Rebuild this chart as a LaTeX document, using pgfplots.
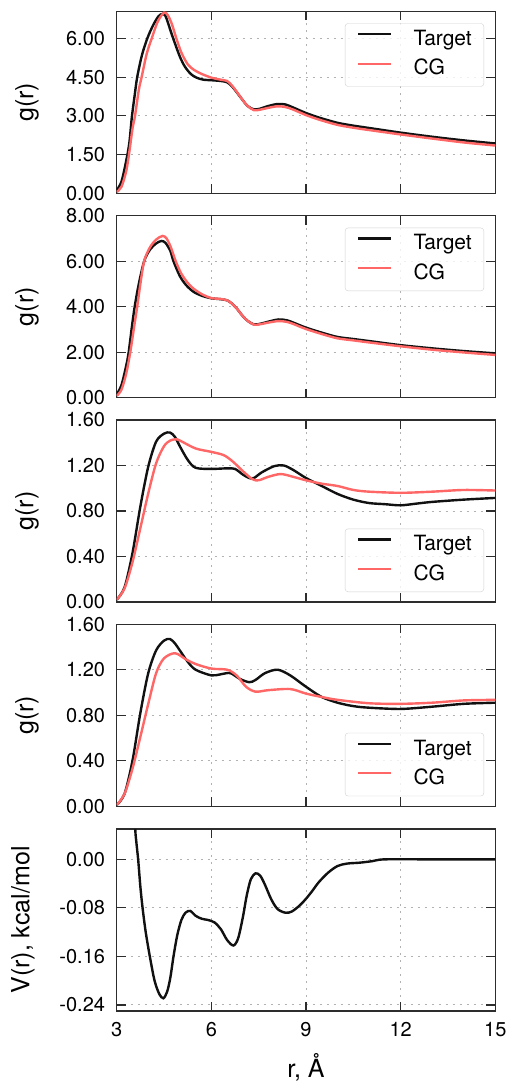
\documentclass[border=0pt]{standalone}
\usepackage{fontspec}
\setmainfont{TeX Gyre Heros}
\usepackage{pgfplots}
\pgfplotsset{compat=1.18}
\definecolor{cgred}{RGB}{255,102,102}
\definecolor{tgt}{RGB}{17,17,17}
\definecolor{spine}{RGB}{45,45,45}
\newcommand\tickfont{\fontsize{20}{24}\selectfont}
\newcommand\labelfont{\fontsize{25}{30}\selectfont}
\newcommand\legfont{\fontsize{21}{25}\selectfont}

\pgfplotsset{
 panel/.style={
  scale only axis, width=378.6pt, height=182pt,
  xmin=3, xmax=15, xtick={3,6,9,12,15},
  tick align=inside, tick pos=both,
  major tick length=9pt,
  every tick/.style={spine, line width=1.2pt},
  axis line style={spine, line width=1.4pt},
  grid=major,
  major grid style={gray!60, line width=0.9pt, dash pattern=on 2pt off 5pt},
  /pgf/number format/assume math mode=true,
  ticklabel style={font=\tickfont},
  yticklabel style={anchor=east, inner sep=0pt, xshift=-11.5pt,
     /pgf/number format/.cd, fixed, fixed zerofill, precision=2},
  xticklabel style={anchor=north, inner sep=0pt, yshift=-11pt},
  every axis y label/.style={at={(axis description cs:-0.237,0.5)}, rotate=90, anchor=center, font=\labelfont},
  every axis x label/.style={at={(axis description cs:0.5,0)}, anchor=base, yshift=-66.7pt, font=\labelfont},
  legend cell align=left,
  legend image code/.code={\draw[##1] (0pt,6pt) -- (33pt,6pt);},
  legend style={draw=black!18, rounded corners=3pt, fill=white, fill opacity=0.8, text opacity=1,
     inner xsep=12pt, inner ysep=7pt, row sep=10pt, column sep=21pt, font=\legfont,
     nodes={inner sep=0pt, text height=15pt, text depth=4.5pt}},
 },
 legNE/.style={legend style={at={(1,1)}, anchor=north east, xshift=-11.3pt, yshift=-12pt}},
 legSE/.style={legend style={at={(1,0)}, anchor=south east, xshift=-11.3pt, yshift=10pt}},
 tline/.style={tgt, line width=2.4pt, smooth},
 cline/.style={cgred, line width=2.4pt, smooth},
}

\begin{document}
\begin{tikzpicture}
\useasboundingbox (0pt,0pt) rectangle (511pt,-1084pt);

% ---------- panel 1 ----------
\begin{axis}[panel, legNE, at={(116.7pt,-193.3pt)}, anchor=south west,
  ymin=0, ymax=7.05, ytick={0,1.5,3,4.5,6}, xticklabels={}, ylabel={g(r)}]
\addplot[tline] coordinates {
(3.00,0.12)(3.15,0.45)(3.30,1.25)(3.40,1.95)(3.48,2.95)(3.57,3.80)(3.65,4.50)(3.80,5.35)
(3.97,6.00)(4.15,6.50)(4.32,6.85)(4.45,6.95)(4.55,6.86)(4.68,6.40)(4.79,6.00)(5.00,5.30)
(5.16,4.91)(5.35,4.62)(5.53,4.48)(5.75,4.40)(6.00,4.38)(6.30,4.35)(6.50,4.30)(6.65,4.15)
(6.80,3.92)(7.00,3.60)(7.15,3.38)(7.35,3.25)(7.55,3.28)(7.80,3.38)(8.10,3.46)(8.35,3.44)
(8.60,3.32)(9.00,3.11)(9.45,2.92)(10.00,2.73)(10.50,2.62)(11.00,2.53)(12.00,2.35)
(13.00,2.19)(14.00,2.05)(15.00,1.93)};
\addplot[cline] coordinates {
(3.00,0.05)(3.15,0.25)(3.30,0.85)(3.40,1.60)(3.50,2.50)(3.58,3.00)(3.70,4.00)(3.79,4.50)
(3.95,5.40)(4.11,6.00)(4.30,6.65)(4.50,7.00)(4.62,6.90)(4.75,6.55)(4.89,6.00)(5.05,5.45)
(5.25,5.00)(5.45,4.78)(5.70,4.62)(6.00,4.48)(6.30,4.40)(6.50,4.35)(6.65,4.18)(6.80,3.94)
(7.00,3.60)(7.15,3.38)(7.35,3.22)(7.55,3.24)(7.80,3.31)(8.10,3.37)(8.35,3.34)(8.60,3.24)
(9.00,3.03)(9.45,2.84)(10.00,2.65)(10.50,2.54)(11.00,2.45)(12.00,2.28)(13.00,2.12)
(14.00,1.97)(15.00,1.85)};
\legend{Target,CG}
\end{axis}

% ---------- panel 2 ----------
\begin{axis}[panel, legNE, at={(116.7pt,-397.7pt)}, anchor=south west,
  ymin=0, ymax=8, ytick={0,2,4,6,8}, xticklabels={}, ylabel={g(r)}]
\addplot[tline] coordinates {
(3.00,0.15)(3.15,0.55)(3.30,1.40)(3.38,2.00)(3.48,3.10)(3.57,4.00)(3.70,5.00)(3.87,6.00)
(4.05,6.50)(4.25,6.78)(4.42,6.89)(4.55,6.80)(4.70,6.45)(4.80,6.00)(5.00,5.35)(5.20,4.95)
(5.43,4.66)(5.70,4.48)(6.00,4.37)(6.30,4.33)(6.50,4.28)(6.65,4.14)(6.80,3.93)(7.00,3.58)
(7.15,3.38)(7.35,3.22)(7.55,3.25)(7.80,3.34)(8.13,3.44)(8.40,3.40)(8.60,3.30)(9.00,3.08)
(9.50,2.86)(10.00,2.67)(10.50,2.58)(11.00,2.49)(12.00,2.31)(13.00,2.17)(14.00,2.05)(15.00,1.95)};
\addplot[cline] coordinates {
(3.00,0.08)(3.15,0.35)(3.30,1.05)(3.43,2.00)(3.55,3.10)(3.65,4.00)(3.75,5.00)(3.87,6.00)
(4.05,6.60)(4.25,6.95)(4.45,7.11)(4.58,7.00)(4.72,6.60)(4.87,6.00)(5.05,5.45)(5.25,5.05)
(5.43,4.80)(5.70,4.55)(6.00,4.38)(6.30,4.34)(6.50,4.28)(6.65,4.14)(6.80,3.93)(7.00,3.58)
(7.15,3.38)(7.35,3.21)(7.55,3.23)(7.80,3.30)(8.13,3.37)(8.40,3.33)(8.60,3.24)(9.00,3.02)
(9.50,2.80)(10.00,2.61)(10.50,2.52)(11.00,2.43)(12.00,2.26)(13.00,2.11)(14.00,1.99)(15.00,1.88)};
\legend{Target,CG}
\end{axis}

% ---------- panel 3 ----------
\begin{axis}[panel, legSE, at={(116.7pt,-602pt)}, anchor=south west,
  ymin=0, ymax=1.6, ytick={0,0.4,0.8,1.2,1.6}, xticklabels={}, ylabel={g(r)}]
\addplot[tline] coordinates {
(3.00,0.02)(3.25,0.13)(3.50,0.43)(3.75,0.84)(4.00,1.19)(4.25,1.41)(4.50,1.48)(4.69,1.49)
(4.85,1.45)(5.00,1.37)(5.25,1.25)(5.50,1.18)(6.00,1.17)(6.50,1.175)(6.75,1.17)(7.00,1.12)
(7.20,1.09)(7.35,1.09)(7.60,1.14)(8.00,1.195)(8.30,1.20)(8.60,1.16)(9.00,1.09)(9.50,1.02)
(10.00,0.95)(10.50,0.90)(11.00,0.87)(11.50,0.86)(12.00,0.85)(12.50,0.865)(13.00,0.88)
(14.00,0.90)(15.00,0.915)};
\addplot[cline] coordinates {
(3.00,0.02)(3.25,0.12)(3.50,0.35)(3.75,0.65)(4.00,0.955)(4.25,1.22)(4.50,1.37)(4.70,1.42)
(4.88,1.43)(5.00,1.42)(5.50,1.35)(6.00,1.32)(6.40,1.29)(6.70,1.23)(7.00,1.15)(7.30,1.08)
(7.50,1.07)(7.80,1.10)(8.20,1.125)(8.60,1.10)(9.00,1.07)(9.50,1.04)(10.00,1.02)(10.50,0.985)
(11.00,0.97)(12.00,0.96)(13.00,0.97)(14.00,0.985)(15.00,0.98)};
\legend{Target,CG}
\end{axis}

% ---------- panel 4 ----------
\begin{axis}[panel, legSE, at={(116.7pt,-806.2pt)}, anchor=south west,
  ymin=0, ymax=1.6, ytick={0,0.4,0.8,1.2,1.6}, xticklabels={}, ylabel={g(r)}]
\addplot[tline] coordinates {
(3.00,0.01)(3.25,0.11)(3.50,0.40)(3.75,0.82)(4.00,1.17)(4.25,1.37)(4.50,1.456)(4.69,1.47)
(4.85,1.43)(5.00,1.37)(5.25,1.27)(5.50,1.20)(6.00,1.15)(6.30,1.16)(6.60,1.17)(6.90,1.12)
(7.20,1.09)(7.40,1.11)(7.70,1.17)(8.10,1.20)(8.50,1.15)(9.00,1.05)(9.50,0.96)(10.00,0.91)
(10.50,0.88)(11.00,0.866)(12.00,0.855)(13.00,0.875)(14.00,0.90)(15.00,0.91)};
\addplot[cline] coordinates {
(3.00,0.01)(3.25,0.11)(3.50,0.33)(3.75,0.61)(4.00,0.90)(4.25,1.17)(4.50,1.30)(4.85,1.345)
(5.20,1.29)(5.50,1.25)(6.00,1.21)(6.50,1.20)(6.80,1.15)(7.10,1.05)(7.40,1.007)(7.80,1.02)
(8.50,1.03)(9.00,0.99)(9.50,0.96)(10.00,0.935)(11.00,0.905)(12.00,0.90)(13.00,0.91)
(14.00,0.93)(15.00,0.935)};
\legend{Target,CG}
\end{axis}

% ---------- panel 5 ----------
\begin{axis}[panel, at={(116.7pt,-1011pt)}, anchor=south west,
  ymin=-0.25, ymax=0.05, ytick={-0.24,-0.16,-0.08,0},
  every axis y label/.style={at={(axis description cs:-0.248,0.5)}, rotate=90, anchor=center, font=\labelfont},
  ylabel={V(r), kcal/mol}, xlabel={r, Å}]
\addplot[tline] coordinates {
(3.50,0.20)(3.58,0.06)(3.62,0.03)(3.68,0.00)(3.75,-0.045)(3.82,-0.08)(3.92,-0.12)(4.05,-0.16)
(4.20,-0.20)(4.35,-0.222)(4.48,-0.229)(4.60,-0.218)(4.70,-0.195)(4.80,-0.16)(4.92,-0.125)
(5.05,-0.100)(5.18,-0.088)(5.33,-0.085)(5.50,-0.093)(5.70,-0.098)(5.90,-0.100)(6.10,-0.104)
(6.30,-0.115)(6.50,-0.133)(6.70,-0.142)(6.85,-0.130)(7.00,-0.095)(7.12,-0.060)(7.25,-0.033)
(7.40,-0.023)(7.55,-0.027)(7.70,-0.042)(7.90,-0.066)(8.10,-0.082)(8.35,-0.088)(8.55,-0.086)
(8.80,-0.076)(9.00,-0.065)(9.20,-0.052)(9.40,-0.038)(9.70,-0.022)(10.00,-0.011)(10.30,-0.007)
(10.70,-0.0055)(11.10,-0.003)(11.50,0.000)(13.00,0.000)(15.00,0.000)};
\end{axis}
\end{tikzpicture}
\end{document}
